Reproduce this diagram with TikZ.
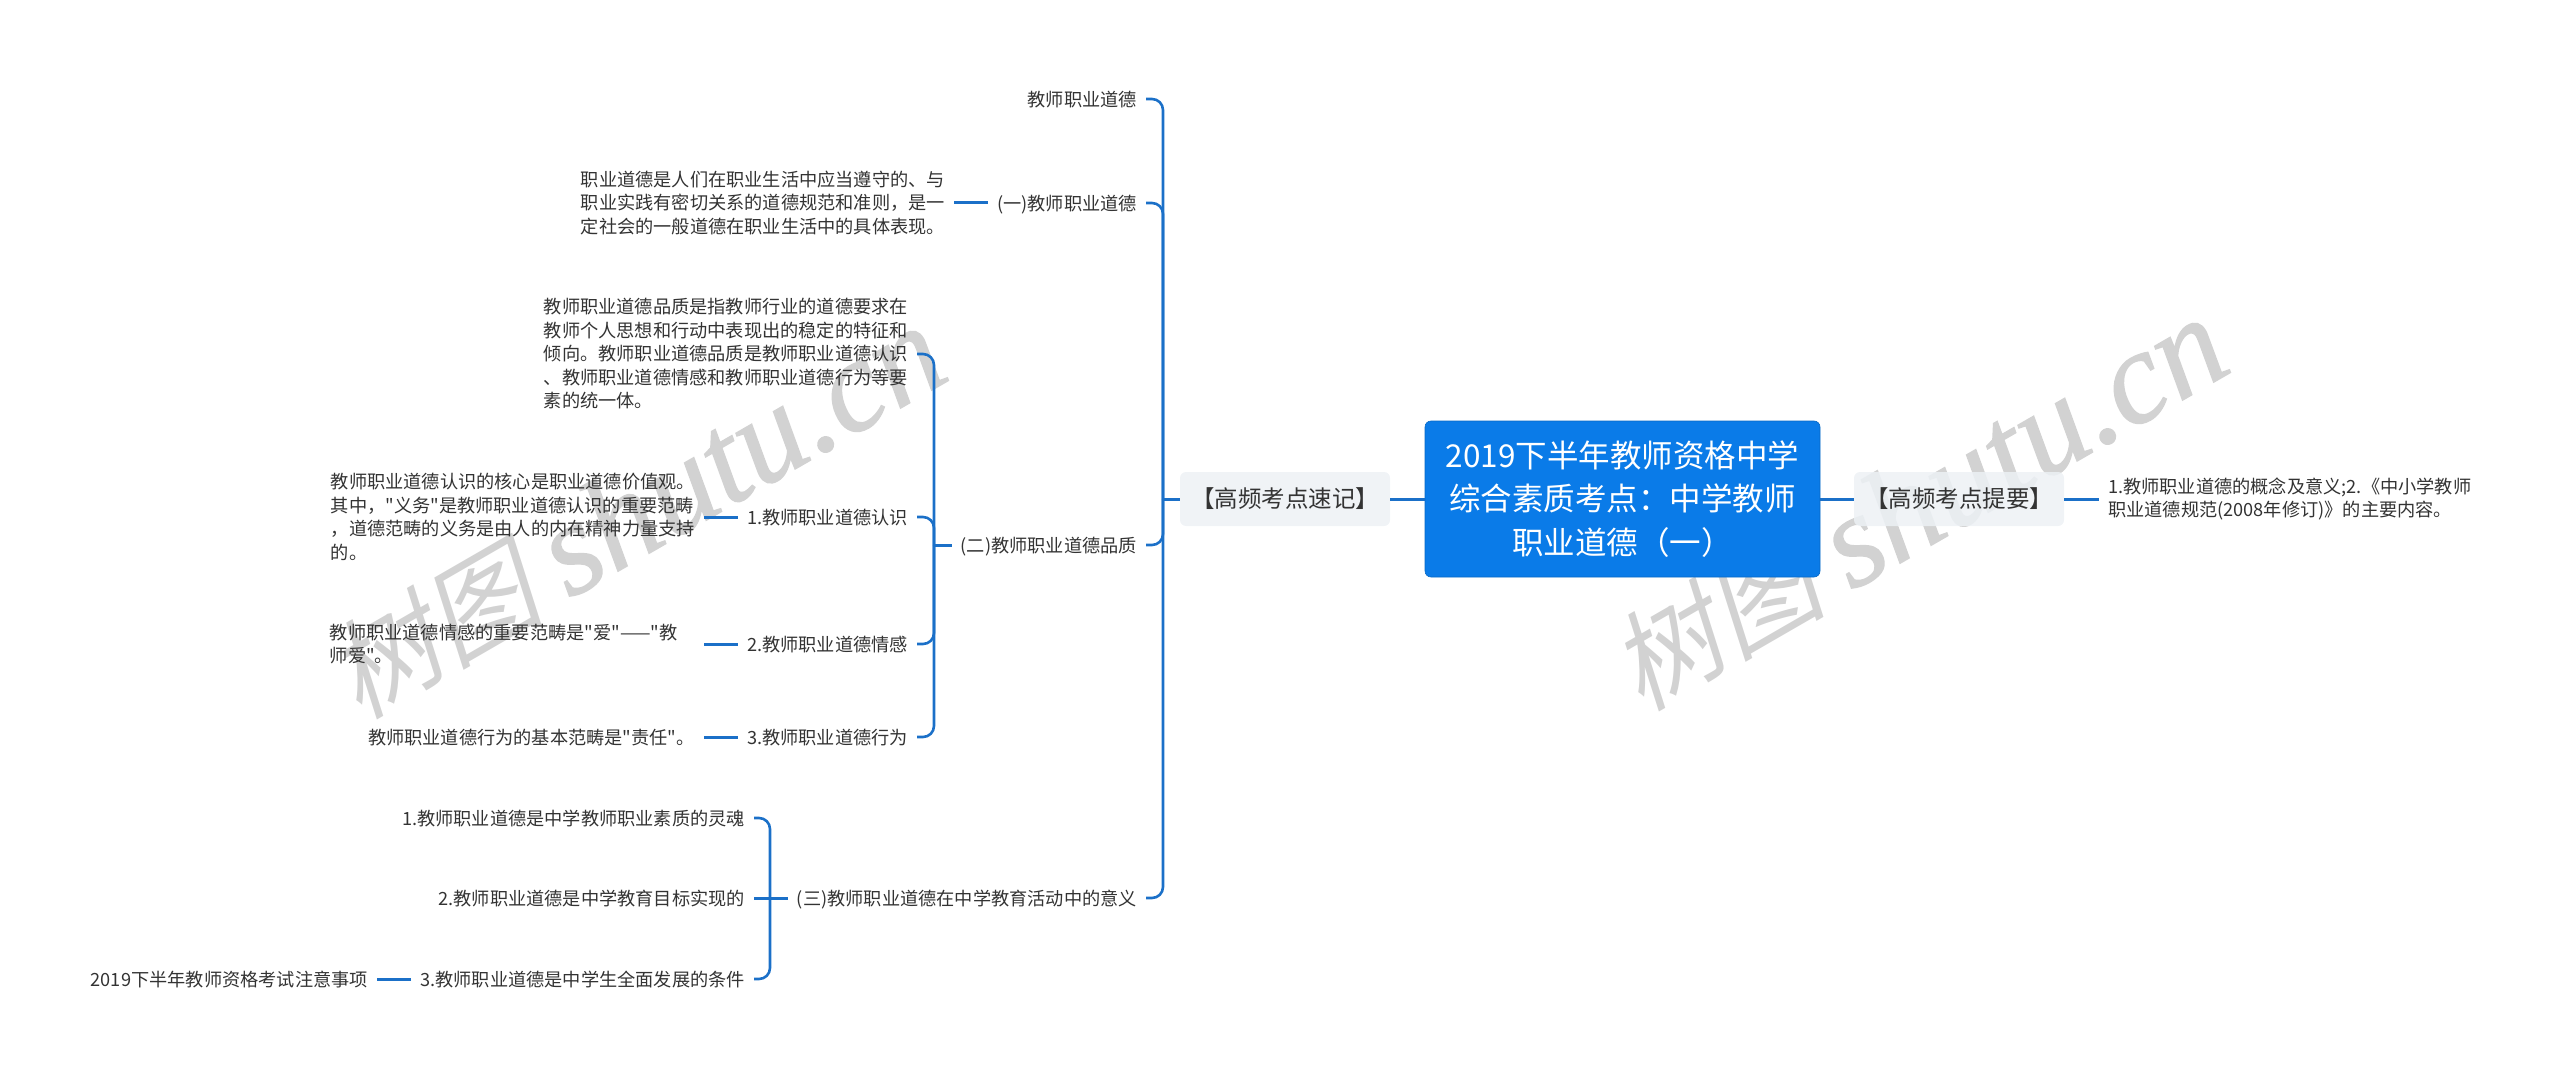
\documentclass[tikz,border=0pt]{standalone}
\usepackage{fontspec}
\usepackage{xcolor}
\setmainfont{Noto Sans CJK SC}[Ligatures=TeXOff]
\newfontfamily\marksong[FakeSlant=.22]{Noto Sans CJK SC}
\newfontfamily\marklatin[ItalicFeatures={FakeBold=1}]{Liberation Serif}
\usetikzlibrary{calc,positioning,backgrounds}
\definecolor{rootblue}{HTML}{0A7BE8}
\definecolor{linkblue}{HTML}{1B70C8}
\definecolor{paleblock}{HTML}{EDF1F5}
\definecolor{inktext}{HTML}{333333}
\definecolor{markgray}{HTML}{D2D2D2}

\begin{document}
\begin{tikzpicture}[
    x=1pt,y=-1pt,
    link/.style={draw=linkblue,line width=3pt},
    bracket/.style={link,line width=2.6pt,rounded corners=11pt},
    entry/.style={text=inktext,inner xsep=9pt,inner ysep=0pt,font=\fontsize{18.2}{23.5}\selectfont},
    leaf/.style={entry,anchor=east,text height=16pt,text depth=1.5pt},
    para/.style={entry,anchor=east,align=left},
    block/.style={fill=paleblock,fill opacity=.85,text opacity=1,text=inktext,rounded corners=6pt,
        minimum width=210pt,minimum height=54pt,inner sep=0pt,font=\fontsize{23.5}{28}\selectfont},
    watermark/.style={text=markgray,rotate=30,inner sep=0pt}
  ]
  \useasboundingbox (0,0) rectangle (2560,1078);
  % 水印
  \newcommand{\marktext}{{\fontsize{108}{108}\selectfont\marksong 树图}\hspace{26pt}{\fontsize{132}{132}\selectfont\marklatin\itshape shutu.cn}}
  \node [watermark] (markleft) at (636,513) {\marktext};
  \node [watermark] (markright) at (1918,505) {\marktext};

  % 中心与两侧
  \node [fill=rootblue,draw=rootblue!85!black,line width=.6pt,rounded corners=6pt,text=white,align=center,
    minimum width=395pt,minimum height=156pt,inner sep=0pt,font=\fontsize{31.5}{43.5}\selectfont] (root) at (1622.5,499)
    {2019下半年教师资格中学\\综合素质考点：中学教师\\职业道德（一）};
  \node [block] (quick) at (1285,499) {【高频考点速记】};
  \node [block] (brief) at (1959,499) {【高频考点提要】};
  \node [entry,anchor=west,align=left] (outline) at (2099,499)
    {1.教师职业道德的概念及意义;2.《中小学教师\\职业道德规范(2008年修订)》的主要内容。};
  \draw [link] (quick) -- (root);
  \draw [link] (root) -- (brief);
  \draw [link] (brief) -- (outline);

  % 一级分支
  \coordinate (trunk) at (1163,499);
  \node [leaf] (ethicsword) at (1146,99) {教师职业道德};
  \node [leaf] (partone) at (1146,203) {(一)教师职业道德};
  \node [leaf] (parttwo) at (1146,545) {(二)教师职业道德品质};
  \node [leaf] (partthree) at (1146,898) {(三)教师职业道德在中学教育活动中的意义};
  \draw [link] (quick) -- (trunk);
  \foreach \child in {ethicsword,partone,parttwo,partthree}{
      \draw [bracket] (\child.east) -| (trunk);
    }

  % (一)
  \node [para] (onetext) at (954,203)
    {职业道德是人们在职业生活中应当遵守的、与\\职业实践有密切关系的道德规范和准则，是一\\定社会的一般道德在职业生活中的具体表现。};
  \draw [link] (partone) -- (onetext);

  % (二)
  \coordinate (twojoin) at (934,545);
  \node [para] (twotext) at (917,354)
    {教师职业道德品质是指教师行业的道德要求在\\教师个人思想和行动中表现出的稳定的特征和\\倾向。教师职业道德品质是教师职业道德认识\\、教师职业道德情感和教师职业道德行为等要\\素的统一体。};
  \node [leaf] (cognition) at (917,517) {1.教师职业道德认识};
  \node [leaf] (emotion) at (917,644) {2.教师职业道德情感};
  \node [leaf] (conduct) at (917,737) {3.教师职业道德行为};
  \draw [link] (parttwo) -- (twojoin);
  \foreach \child in {twotext,cognition,emotion,conduct}{
      \draw [bracket] (\child.east) -| (twojoin);
    }
  \node [para] (cognitiontext) at (704,517)
    {教师职业道德认识的核心是职业道德价值观。\\其中，"义务"是教师职业道德认识的重要范畴\\，道德范畴的义务是由人的内在精神力量支持\\的。};
  \node [para,text width=365pt] (emotiontext) at (704,644)
    {教师职业道德情感的重要范畴是"爱"——"教\\师爱"。};
  \node [leaf] (conducttext) at (704,737) {教师职业道德行为的基本范畴是"责任"。};
  \draw [link] (cognition) -- (cognitiontext);
  \draw [link] (emotion) -- (emotiontext);
  \draw [link] (conduct) -- (conducttext);

  % (三)
  \coordinate (threejoin) at (770,898);
  \node [leaf] (soul) at (754,818) {1.教师职业道德是中学教师职业素质的灵魂};
  \node [leaf] (goal) at (754,898) {2.教师职业道德是中学教育目标实现的};
  \node [leaf] (growth) at (754,979) {3.教师职业道德是中学生全面发展的条件};
  \node [leaf] (notice) at (377,979) {2019下半年教师资格考试注意事项};
  \draw [link] (partthree) -- (goal);
  \foreach \child in {soul,growth}{
      \draw [bracket] (\child.east) -| (threejoin);
    }
  \draw [link] (growth) -- (notice);
\end{tikzpicture}
\end{document}
